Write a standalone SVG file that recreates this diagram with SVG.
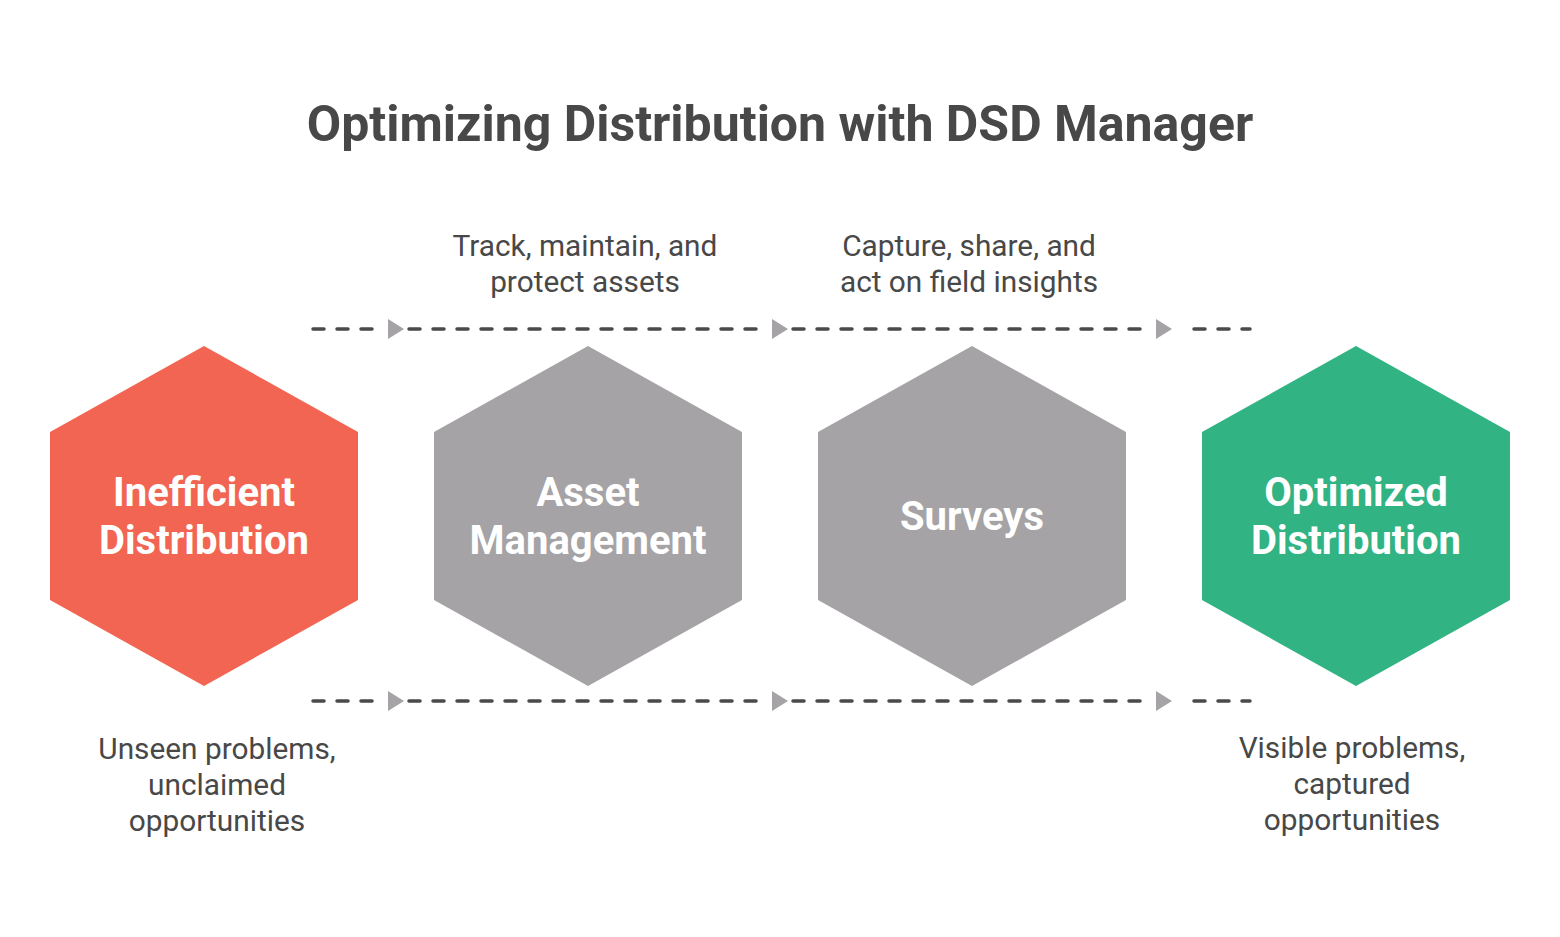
<svg xmlns="http://www.w3.org/2000/svg" width="1560" height="937" viewBox="0 0 1560 937">
<style>
.title{font-family:Roboto,"Liberation Sans",sans-serif;font-weight:700;font-size:50px;fill:#484848;text-anchor:middle}
.lbl{font-family:Roboto,"Liberation Sans",sans-serif;font-size:29.8px;fill:#484848;text-anchor:middle}
.hx{font-family:Roboto,"Liberation Sans",sans-serif;font-weight:700;font-size:40px;fill:#ffffff;text-anchor:middle}
.dash{stroke:#4a4a4a;stroke-width:3.5;stroke-dasharray:11 13;stroke-linecap:round;fill:none}
.arr{fill:#a5a3a5}
</style>
<defs>
<polygon id="hex" points="0,-170 154,-84 154,84 0,170 -154,84 -154,-84"/>
</defs>
<rect width="1560" height="937" fill="#ffffff"/>
<text class="title" x="780" y="141">Optimizing Distribution with DSD Manager</text>
<g id="connectors">
<line class="dash" x1="313" y1="329" x2="384" y2="329"/>
<line class="dash" x1="409" y1="329" x2="768" y2="329"/>
<line class="dash" x1="793" y1="329" x2="1152" y2="329"/>
<line class="dash" x1="1194" y1="329" x2="1250" y2="329"/>
<polygon class="arr" points="388,319 404,329 388,339"/>
<polygon class="arr" points="772,319 788,329 772,339"/>
<polygon class="arr" points="1156,319 1172,329 1156,339"/>
<line class="dash" x1="313" y1="701" x2="384" y2="701"/>
<line class="dash" x1="409" y1="701" x2="768" y2="701"/>
<line class="dash" x1="793" y1="701" x2="1152" y2="701"/>
<line class="dash" x1="1194" y1="701" x2="1250" y2="701"/>
<polygon class="arr" points="388,691 404,701 388,711"/>
<polygon class="arr" points="772,691 788,701 772,711"/>
<polygon class="arr" points="1156,691 1172,701 1156,711"/>
</g>
<g id="node-inefficient">
<use href="#hex" x="204" y="516" fill="#f26552"/>
<text class="hx" x="204" y="506">Inefficient</text>
<text class="hx" x="204" y="554">Distribution</text>
</g>
<g id="node-asset">
<use href="#hex" x="588" y="516" fill="#a5a3a5"/>
<text class="hx" x="588" y="506">Asset</text>
<text class="hx" x="588" y="554">Management</text>
</g>
<g id="node-surveys">
<use href="#hex" x="972" y="516" fill="#a5a3a5"/>
<text class="hx" x="972" y="530">Surveys</text>
</g>
<g id="node-optimized">
<use href="#hex" x="1356" y="516" fill="#31b383"/>
<text class="hx" x="1356" y="506">Optimized</text>
<text class="hx" x="1356" y="554">Distribution</text>
</g>
<g id="label-asset">
<text class="lbl" x="585" y="256">Track, maintain, and</text>
<text class="lbl" x="585" y="292">protect assets</text>
</g>
<g id="label-surveys">
<text class="lbl" x="969" y="256">Capture, share, and</text>
<text class="lbl" x="969" y="292">act on field insights</text>
</g>
<g id="label-inefficient">
<text class="lbl" x="217" y="759">Unseen problems,</text>
<text class="lbl" x="217" y="795">unclaimed</text>
<text class="lbl" x="217" y="831">opportunities</text>
</g>
<g id="label-optimized">
<text class="lbl" x="1352" y="758">Visible problems,</text>
<text class="lbl" x="1352" y="794">captured</text>
<text class="lbl" x="1352" y="830">opportunities</text>
</g>
</svg>
